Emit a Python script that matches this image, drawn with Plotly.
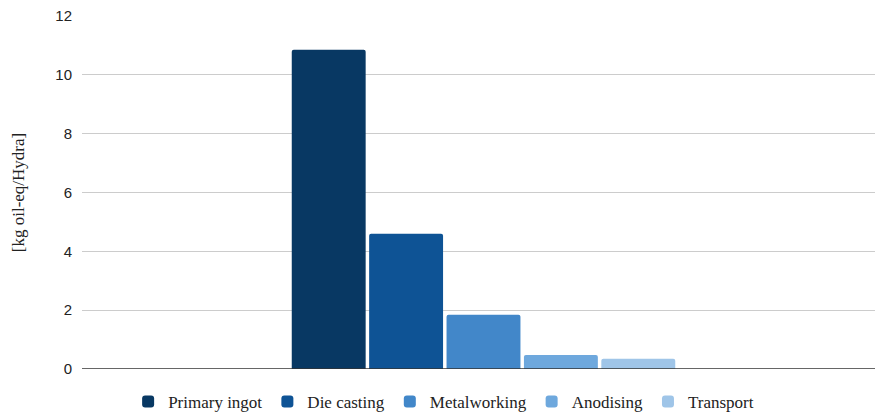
import plotly.graph_objects as go

categories = ["Hydra"]
series_names = ["Primary ingot", "Die casting", "Metalworking", "Anodising", "Transport"]
series_values = [10.85, 4.6, 1.84, 0.48, 0.35]
colors = ["#083863", "#0e5395", "#4287c9", "#6ea8dd", "#9fc5e8"]
y_ticks = [0, 2, 4, 6, 8, 10, 12]

fig = go.Figure()
for name, val, col in zip(series_names, series_values, colors):
    fig.add_trace(go.Bar(x=[0], y=[val], name=name, marker=dict(color=col, line=dict(width=0))))

fig.update_layout(
    width=875, height=414,
    margin=dict(l=82, r=0, t=16, b=45),
    plot_bgcolor="white", paper_bgcolor="white",
    barmode="group", bargap=0.512, bargroupgap=0.045,
    barcornerradius=2,
    showlegend=True,
    legend=dict(orientation="h", xref="container", yref="container",
                x=0.507, xanchor="center", y=0.029, yanchor="middle",
                font=dict(family="Liberation Serif", size=17, color="#222"),
                itemwidth=30, traceorder="normal"),
    xaxis=dict(range=[-0.5063, 0.4937], showticklabels=False, showgrid=False,
               zeroline=False, showline=False, fixedrange=True),
    yaxis=dict(range=[0, 12], tickvals=y_ticks, showgrid=True, gridcolor="#cccccc",
               gridwidth=1, zeroline=False, showline=False, ticks="",
               tickfont=dict(family="Liberation Sans", size=15, color="#222"),
               ticklabelstandoff=9,
               title=dict(text="[kg oil-eq/Hydra]", standoff=26,
                          font=dict(family="Liberation Serif", size=17, color="#222"))),
    shapes=[dict(type="line", xref="paper", yref="y", x0=0, x1=1, y0=0, y1=0,
                 line=dict(color="#333333", width=1.5))],
)

fig.write_html("out.html")
